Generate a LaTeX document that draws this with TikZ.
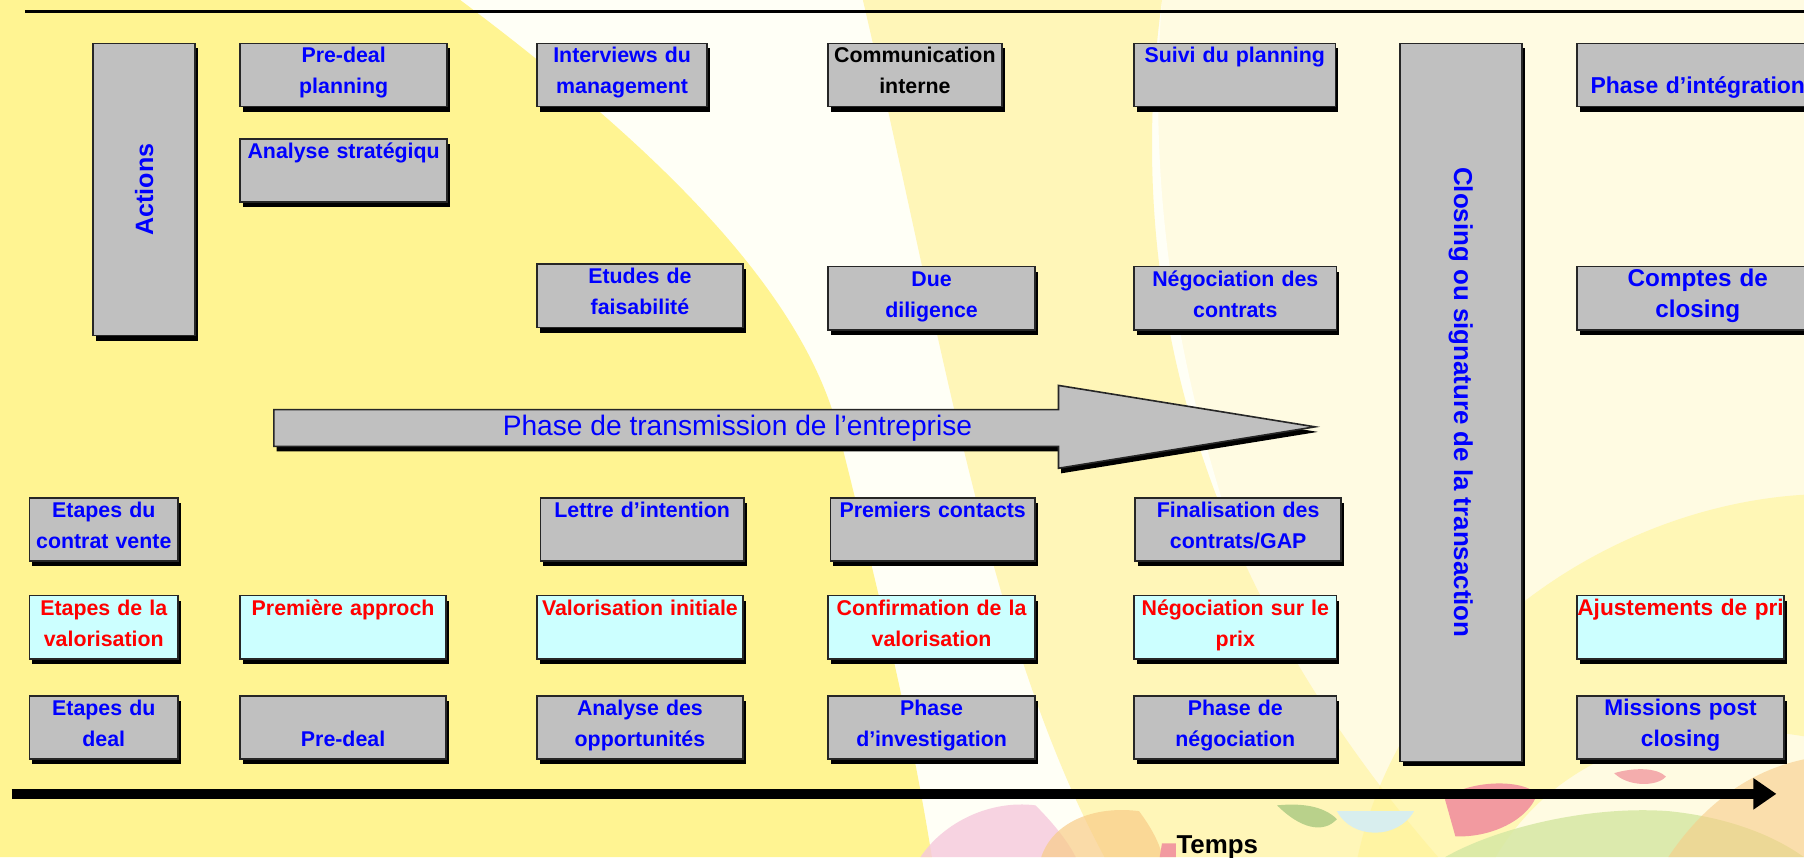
\documentclass[tikz,border=0pt]{standalone}
\usepackage{fontspec}
\setmainfont{Liberation Sans}
\usetikzlibrary{shadows, arrows.meta}
\definecolor{bgyellow}{HTML}{FFF492}
\definecolor{bgcream}{HTML}{FFFBE2}
\definecolor{bgwhite}{HTML}{FFFFF6}
\definecolor{bgpale}{HTML}{FFF6B8}
\definecolor{boxgray}{HTML}{C0C0C0}
\definecolor{valcyan}{HTML}{CCFFFF}
\definecolor{txtblue}{HTML}{0000FF}
\definecolor{txtred}{HTML}{FF0000}
\definecolor{petalpink}{HTML}{F29AA0}
\definecolor{softpink}{HTML}{F6C8DC}
\definecolor{leafgreen}{HTML}{A8C880}
\definecolor{lightgreen}{HTML}{D6E8A4}
\definecolor{skyteal}{HTML}{D8EEEE}
\definecolor{warmorange}{HTML}{F8CC88}

\begin{document}
\hyphenpenalty=10000
\exhyphenpenalty=10000
\begin{tikzpicture}[x=0.25mm, y=-0.25mm,
  boxshadow/.style={drop shadow={shadow xshift=0.6mm, shadow yshift=-1.1mm, fill=black, opacity=1}},
  stage/.style={draw=black!85, line width=0.35mm, fill=boxgray, anchor=north west,
    inner xsep=0pt, inner ysep=0pt, text width=#1, align=center,
    minimum height=13.75mm, text height=3.25mm, text depth=8.5mm, text=txtblue,
    font=\bfseries\fontsize{13.2}{19.2}\selectfont, boxshadow},
  valo/.style={stage=#1, fill=valcyan, text=txtred},
  post/.style={stage=#1, font=\bfseries\fontsize{14.2}{19.2}\selectfont},
  pillar/.style={draw=black!85, line width=0.35mm, fill=boxgray, anchor=north west,
    inner sep=0pt, text=txtblue, boxshadow},
  bigarrow/.style={draw=black!85, line width=0.35mm, fill=boxgray, boxshadow},
  phasetext/.style={text=txtblue, font=\fontsize{17.4}{20}\selectfont},
  timeline/.style={line width=2.1mm, -{Triangle[length=5mm, width=6.5mm]}},
  rule/.style={line width=0.6mm},
  timelabel/.style={anchor=north, inner sep=0pt, font=\bfseries\fontsize{16}{18}\selectfont}]

  \useasboundingbox (0,0) rectangle (1568,745);

  % fond
  \fill[bgcream] (0,0) rectangle (1568,745);
  \fill[bgwhite] (390,0) -- (1010,0) .. controls (990,250) and (1060,500) .. (1200,745)
    -- (800,745) -- cycle;
  \fill[bgpale] (750,0) -- (1010,0) .. controls (980,220) and (1020,480) .. (1250,745)
    -- (960,745) .. controls (860,560) and (820,300) .. (750,0) -- cycle;
  \fill[bgyellow] (0,0) -- (400,0) .. controls (560,120) and (700,250) .. (730,380)
    .. controls (760,500) and (790,620) .. (810,745) -- (0,745) -- cycle;
  \fill[bgyellow, opacity=0.55] (1180,745) .. controls (1220,560) and (1400,440) .. (1568,430)
    -- (1568,640) .. controls (1450,620) and (1350,660) .. (1300,745) -- cycle;
  % decor du bas
  \fill[softpink, opacity=0.8] (800,745) .. controls (820,715) and (860,695) .. (900,700)
    .. controls (920,720) and (930,735) .. (935,745) -- cycle;
  \fill[warmorange, opacity=0.7] (905,745) .. controls (915,715) and (950,700) .. (990,705)
    .. controls (1005,725) and (1010,740) .. (1010,745) -- cycle;
  \fill[petalpink] (1008,745) -- (1010,733) -- (1022,733) -- (1022,745) -- cycle;
  \fill[lightgreen, opacity=0.85] (1256,745) .. controls (1300,720) and (1380,700) .. (1450,705)
    .. controls (1500,710) and (1540,725) .. (1568,745) -- cycle;
  \fill[warmorange, opacity=0.6] (1450,745) .. controls (1480,700) and (1520,670) .. (1568,660) -- (1568,745) -- cycle;
  \fill[leafgreen, opacity=0.8] (1110,700) .. controls (1130,720) and (1150,725) .. (1162,712)
    .. controls (1150,700) and (1130,698) .. (1110,700) -- cycle;
  \fill[skyteal] (1162,705) .. controls (1175,730) and (1215,730) .. (1229,705) -- cycle;
  \fill[petalpink] (1256,695) .. controls (1270,680) and (1320,675) .. (1336,690)
    .. controls (1330,710) and (1300,728) .. (1265,727) -- cycle;
  \fill[petalpink, opacity=0.8] (1403,672) .. controls (1420,667) and (1440,667) .. (1448,675)
    .. controls (1440,684) and (1415,684) .. (1403,672) -- cycle;

  % ligne du haut
  \coordinate (r0) at (22,10);
  \coordinate (r1) at (1568,10);
  \draw[rule] (r0) -- (r1);

  % actions
  \node[pillar, minimum width=22.25mm, minimum height=63.5mm,
    font=\bfseries\fontsize{15.5}{18}\selectfont] (actions) at (80,37) {\rotatebox{90}{Actions}};
  \node[stage=45mm] (predealplan) at (208,37) {Pre-deal\\planning};
  \node[stage=45mm] (strategie) at (208,120) {Analyse stratégiqu};
  \node[stage=37mm] (interviews) at (466,37) {Interviews du\\management};
  \node[stage=37.75mm, text=black] (communication) at (719,37) {Communication\\interne};
  \node[stage=43.75mm] (suivi) at (985,37) {Suivi du planning};
  \node[stage=44.75mm] (etudes) at (466,229) {Etudes de\\faisabilité};
  \node[stage=45mm] (diligence) at (719,231) {Due\\diligence};
  \node[stage=44mm] (negocontrats) at (985,231) {Négociation des\\contrats};
  \node[post=52.5mm] (integration) at (1370,37) {\mbox{}\\Phase d'intégration};
  \node[post=52.5mm, font=\bfseries\fontsize{15}{19.2}\selectfont] (comptes) at (1370,231) {Comptes de\\closing};

  % closing
  \node[pillar, minimum width=26.5mm, minimum height=156mm,
    font=\bfseries\fontsize{16}{18}\selectfont] (closing) at (1216,37)
    {\rotatebox{-90}{Closing ou signature de la transaction}};

  % fleche de phase
  \draw[bigarrow] (238,356) -- (920,356) -- (920,335) -- (1143,371) -- (920,407) -- (920,388) -- (238,388) -- cycle;
  \node[phasetext] (transmission) at (641,372) {Phase de transmission de l'entreprise};

  % etapes du contrat
  \node[stage=32.25mm] (contratvente) at (25,432) {Etapes du\\contrat vente};
  \node[stage=44.25mm] (lettre) at (469,432) {Lettre d'intention};
  \node[stage=44.5mm] (contacts) at (721,432) {Premiers contacts};
  \node[stage=44.75mm] (finalisation) at (986,432) {Finalisation des\\contrats/GAP};

  % etapes de la valorisation
  \node[valo=32.25mm] (valoetapes) at (25,517) {Etapes de la\\valorisation};
  \node[valo=44.75mm] (approche) at (208,517) {Première approch};
  \node[valo=44.75mm] (valoinit) at (466,517) {Valorisation initiale};
  \node[valo=45mm] (confirmation) at (719,517) {Confirmation de la\\valorisation};
  \node[valo=44mm] (negoprix) at (985,517) {Négociation sur le\\prix};
  \node[valo=45mm, font=\bfseries\fontsize{14}{19.2}\selectfont] (ajustements) at (1370,517) {Ajustements de pri};

  % etapes du deal
  \node[stage=32.25mm] (dealetapes) at (25,604) {Etapes du\\deal};
  \node[stage=44.75mm] (predeal) at (208,604) {\mbox{}\\Pre-deal};
  \node[stage=44.75mm] (opportunites) at (466,604) {Analyse des\\opportunités};
  \node[stage=45mm] (investigation) at (719,604) {Phase\\d'investigation};
  \node[stage=44mm] (negophase) at (985,604) {Phase de\\négociation};
  \node[stage=45mm, font=\bfseries\fontsize{14}{19.2}\selectfont] (missions) at (1370,604) {Missions post\\closing};

  % temps
  \coordinate (t0) at (10,690);
  \coordinate (t1) at (1544,690);
  \draw[timeline] (t0) -- (t1);
  \node[timelabel] (temps) at (1058,726) {Temps};
\end{tikzpicture}
\end{document}
